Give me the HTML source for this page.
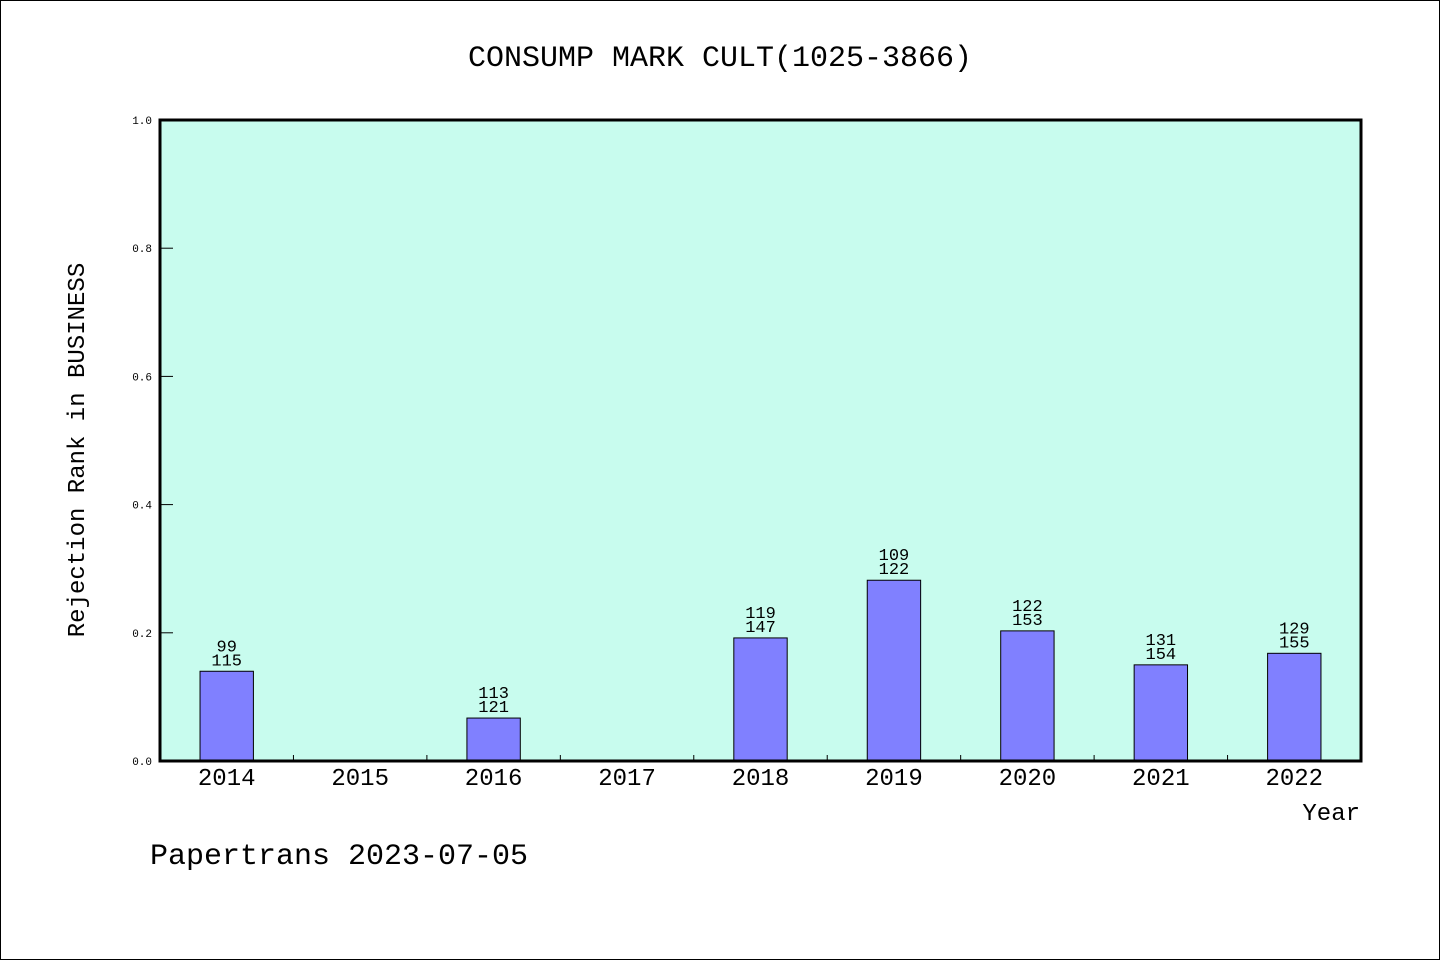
<!DOCTYPE html>
<html><head><meta charset="utf-8"><style>
body{margin:0;background:#fff}
#wrap{position:relative;width:1438px;height:958px;border:1px solid #000;overflow:hidden}
text{font-family:"WenQuanYi Zen Hei","Liberation Mono",monospace;fill:#000}
</style></head><body>
<div id="wrap">
<svg id="chart" width="1440" height="960" style="position:absolute;left:-1px;top:-1px"></svg>
</div>
<script>
const categories=["2014","2015","2016","2017","2018","2019","2020","2021","2022"];
const values=[0.14,0,0.067,0,0.192,0.282,0.203,0.15,0.168];
const labelTop=["99","","113","","119","109","122","131","129"];
const labelBottom=["115","","121","","147","122","153","154","155"];
const yTicks=[0,0.2,0.4,0.6,0.8,1.0];
const yTickLabels=["0.0","0.2","0.4","0.6","0.8","1.0"];

const NS="http://www.w3.org/2000/svg";
const svg=document.getElementById('chart');
const L=160,R=1361,T=120,B=761;
const band=(R-L)/categories.length;
const x=i=>L+band*i;
const y=v=>B-(B-T)*v;
function mk(tag,attrs,parent){const e=document.createElementNS(NS,tag);for(const k in attrs)e.setAttribute(k,attrs[k]);(parent||svg).appendChild(e);return e;}

const bg=mk('rect',{x:L,y:T,width:R-L,height:B-T,fill:'#c8fcee'});



const t=mk('text',{x:720,y:66,'font-size':30,'text-anchor':'middle'});t.textContent='CONSUMP MARK CULT(1025-3866)';



yTicks.forEach((v,i)=>{
  const tk=mk('line',{x1:L,x2:L+13,y1:y(v),y2:y(v),stroke:'#000','stroke-width':1});
  
  
  const tl=mk('text',{x:152,y:y(v)+4,'font-size':11,'text-anchor':'end'});tl.textContent=yTickLabels[i];
  
  
});

categories.forEach((c,i)=>{
  if(i>0){const tk=mk('line',{x1:x(i),x2:x(i),y1:B-6,y2:B,stroke:'#000','stroke-width':1});
    
    }
  const cx=x(i)+band/2;
  const xl=mk('text',{x:cx,y:785,'font-size':24,'text-anchor':'middle'});xl.textContent=c;
  
  
  if(values[i]>0){
    const w=band*0.4;
    const b=mk('rect',{x:cx-w/2,y:y(values[i]),width:w,height:B-y(values[i]),fill:'#8080ff',stroke:'#000','stroke-width':1});
    
    
    const l1=mk('text',{x:cx,y:y(values[i])-20,'font-size':17,'text-anchor':'middle'});l1.textContent=labelTop[i];
    
    
    const l2=mk('text',{x:cx,y:y(values[i])-6,'font-size':17,'text-anchor':'middle'});l2.textContent=labelBottom[i];
    
    
  }
});

const fr=mk('rect',{x:L,y:T,width:R-L,height:B-T,fill:'none',stroke:'#000','stroke-width':3});



const yt=mk('text',{x:0,y:0,'font-size':24,'text-anchor':'middle',transform:'translate(84,450) rotate(-90)'});yt.textContent='Rejection Rank in BUSINESS';


const xt=mk('text',{x:1360,y:820,'font-size':24,'text-anchor':'end'});xt.textContent='Year';


const ft=mk('text',{x:150,y:864,'font-size':30});ft.textContent='Papertrans 2023-07-05';


</script>
</body></html>
